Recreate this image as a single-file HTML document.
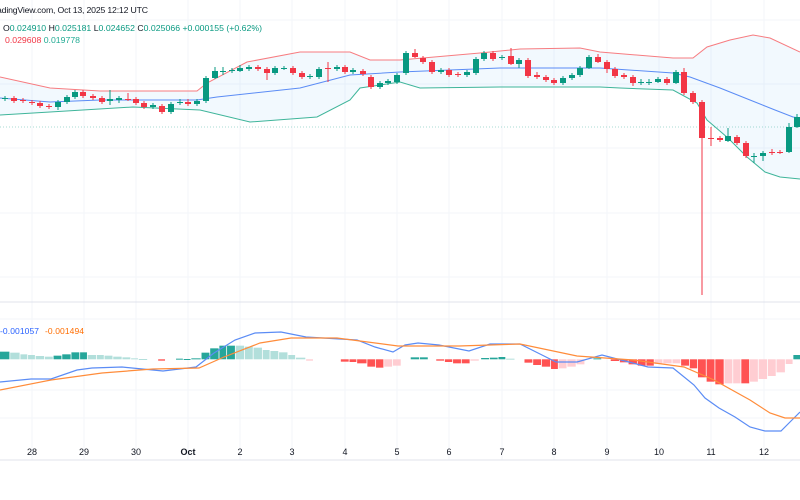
<!DOCTYPE html>
<html><head><meta charset="utf-8"><style>
html,body{margin:0;padding:0;background:#fff;width:800px;height:500px;overflow:hidden}
svg{display:block}
text{font-family:"Liberation Sans",sans-serif}
</style></head><body>
<svg id="s" width="800" height="500" viewBox="0 0 800 500" xmlns="http://www.w3.org/2000/svg">
<g id="grid" stroke="#f3f5fa" stroke-width="1"></g>
<line x1="0" y1="302" x2="800" y2="302" stroke="#e0e3eb"/>
<line x1="0" y1="460" x2="800" y2="460" stroke="#e0e3eb"/>
<path id="bandfill" fill="#2196f3" fill-opacity="0.06"/>
<path id="upper" fill="none" stroke="#f77c80" stroke-width="1"/>
<path id="mid" fill="none" stroke="#5b8cf5" stroke-width="1"/>
<path id="lower" fill="none" stroke="#3fb59a" stroke-width="1"/>
<line x1="0" y1="127" x2="800" y2="127" stroke="#089981" stroke-opacity="0.35" stroke-dasharray="1,2"/>
<g id="candles"></g>
<g id="hist"></g>
<path id="macd" fill="none" stroke="#5b8cf5" stroke-width="1.2"/>
<path id="sig" fill="none" stroke="#ff8c3a" stroke-width="1.2"/>
<text x="-3" y="13" font-size="8.7" fill="#131722" textLength="151">adingView.com, Oct 13, 2025 12:12 UTC</text>
<text x="3" y="31" font-size="8.7" fill="#131722" textLength="259">O<tspan fill="#089981">0.024910</tspan> H<tspan fill="#089981">0.025181</tspan> L<tspan fill="#089981">0.024652</tspan> C<tspan fill="#089981">0.025066</tspan> <tspan fill="#089981">+0.000155 (+0.62%)</tspan></text>
<text x="5" y="43" font-size="8.7" fill="#f23645" textLength="75">0.029608 <tspan fill="#22ab94">0.019778</tspan></text>
<text x="0" y="334" font-size="8.5" fill="#2962ff" textLength="39">-0.001057</text>
<text x="45" y="334" font-size="8.5" fill="#ff6d00" textLength="39">-0.001494</text>
<g font-size="9" fill="#131722" text-anchor="middle" id="dates"></g>
</svg>
<script>
var NS="http://www.w3.org/2000/svg";
function el(p,t,a){var e=document.createElementNS(NS,t);for(var k in a)e.setAttribute(k,a[k]);document.getElementById(p).appendChild(e);return e;}
var days=[["28",32],["29",84],["30",136],["Oct",188],["2",240],["3",292],["4",345],["5",397],["6",449],["7",502],["8",554],["9",607],["10",659],["11",711],["12",764]];
days.forEach(function(d){el("grid","line",{x1:d[1],y1:0,x2:d[1],y2:460});var t=el("dates","text",{x:d[1],y:455});t.textContent=d[0];if(d[0]=="Oct")t.setAttribute("font-weight","bold");});
[20,84,148,213,277,319,390,418].forEach(function(y){el("grid","line",{x1:0,y1:y,x2:800,y2:y});});
function path(pts){return "M"+pts.map(function(p){return p[0]+","+p[1]}).join("L");}
var up=[[0,77],[50,88],[100,91],[197,91],[207,83],[247,62],[300,52],[350,52],[370,60],[400,60],[480,53],[520,49],[580,48],[600,52],[673,58],[693,58],[707,47],[730,40],[753,35],[770,38],[800,52]];
var md=[[0,98],[50,102],[100,100],[197,100],[217,97],[300,88],[350,75],[400,72],[500,68],[600,68],[673,73],[690,77],[720,88],[750,100],[775,110],[793,117],[800,118]];
var lo=[[0,115],[50,112],[133,107],[200,110],[250,122],[317,117],[350,100],[360,88],[400,82],[420,88],[500,87],[600,87],[620,88],[673,90],[697,103],[707,120],[728,138],[747,157],[765,172],[780,177],[800,179]];
document.getElementById("upper").setAttribute("d",path(up));
document.getElementById("mid").setAttribute("d",path(md));
document.getElementById("lower").setAttribute("d",path(lo));
document.getElementById("bandfill").setAttribute("d",path(up)+"L"+lo.slice().reverse().map(function(p){return p[0]+","+p[1]}).join("L")+"Z");
var G="#089981",R="#f23645";
var c=[[5,98,99,G],[14,98,101,R],[23,100,101,R],[32,102,103,R],[40,103,106,R],[49,106,107,R],[58,102,107,G,100,110],[67,97,102,G],[75,92,97,G],[83,92,96,R],[93,96,98,R],[102,98,102,R,96,104],[110,99,101,G,90,105],[119,98,100,G,96,103],[128,99,100,R,93,101],[136,99,103,R],[144,103,107,R],[153,105,107,G],[162,106,112,R],[171,104,112,G],[180,102,103,G,99,105],[188,102,104,R,99,106],[197,101,104,G],[206,78,101,G],[215,71,78,G,67,79],[223,71,71,G,67,75],[232,70,71,G],[240,68,71,G,65,72],[249,67,69,G],[258,67,69,R],[267,69,73,R,67,80],[275,68,73,G],[284,68,68,G],[293,68,73,R],[302,73,77,R],[310,76,77,G],[319,69,77,G],[328,68,69,R,62,82],[337,67,69,G],[345,67,72,R],[353,70,72,G],[363,71,74,R],[371,77,87,R],[380,83,87,G],[388,81,83,G],[397,75,82,G],
[406,53,73,G],[415,53,57,R,49,58],[423,58,62,R],[432,62,72,R],[441,70,72,G],[449,70,75,R],[458,74,74,R,72,77],[467,72,75,G],[476,59,73,G],[484,53,59,G,51,61],[493,53,59,R],[502,57,58,G],[511,56,64,R,48,65],[519,60,64,G,58,68],[528,60,76,R],[537,75,77,R,72,79],[546,77,80,R],[554,80,83,R],[563,78,83,G],[572,75,78,G],[580,68,75,G],[589,57,68,G,55,69],[598,57,62,R,54,63],[607,62,69,R,60,73],[615,69,76,R],[624,75,77,R,73,79],[633,77,83,R,75,86],[641,82,82,G,79,85],[649,82,82,G,79,85],[658,79,82,G,77,83],[667,79,83,R],[676,72,83,G,70,84],[684,72,93,R,68,95],[693,93,102,R,91,104],[702,102,138,R,100,295],[711,138,138,R,127,146],[720,138,140,R],[728,136,141,G,128,142],[737,137,143,R,135,145],[746,143,156,R],[754,156,156,G,153,163],[763,153,156,G,151,161],[772,152,152,R,149,155],[780,152,152,R,150,154],[789,127,152,G,123,153],[797,117,127,G,114,128]];
c.forEach(function(k){var x=k[0],t=k[1],b=k[2],col=k[3],wt=k[4]||t-2,wb=k[5]||b+2;
el("candles","line",{x1:x,y1:wt,x2:x,y2:wb,stroke:col,"stroke-width":1});
el("candles","rect",{x:x-3,y:t,width:6,height:Math.max(1,b-t),fill:col});});
var D="#26a69a",L="#b2dfdb",RR="#ff5252",P="#ffcdd2";
var h=[[0,20,155,D],[20,40,158,L],[40,55,163,L],[55,70,165,L],[70,88,168,L],[88,105,170,L],[105,122,167,D],[122,140,163,D],[140,157,157,D],[157,172,157,D],[172,190,165,L],[190,205,165,L],[205,222,167,L],[222,240,170,L],[240,257,172,L],[257,272,175,L],[272,290,177,L],[310,325,182,RR],[345,360,176,D],[360,375,177,D],[375,395,175,D],[395,412,158,D],[412,430,145,D],[430,445,137,D],[445,462,137,D],[462,480,137,L],[480,497,140,L],[497,515,143,L],[515,530,150,L],[530,547,153,L],[547,565,157,L],[565,580,165,L],[580,600,173,L],[600,615,182,P],[668,685,185,RR],[685,700,186,RR],[700,720,190,RR],[720,737,200,RR],[737,753,203,RR],[753,770,200,P],[770,787,197,P],[805,823,172,D],[823,840,172,D],[855,872,182,RR],[872,888,186,RR],[888,905,190,RR],[905,922,190,RR],[922,940,182,P],[943,960,174,D],[960,977,173,D],[977,992,171,D],[992,1010,176,L],[1028,1045,188,RR],[1045,1062,195,RR],[1062,1080,200,RR],[1080,1095,207,RR],[1095,1112,205,P],[1112,1130,200,P],[1130,1147,193,P],[1163,1180,175,D],[1197,1215,183,RR],[1215,1232,187,RR],[1232,1250,193,RR],[1250,1267,197,RR],[1267,1283,197,RR],[1283,1300,192,P],[1300,1318,190,P],[1318,1335,190,P],[1335,1352,197,RR],[1352,1368,205,RR],[1368,1385,232,RR],[1385,1402,245,RR],[1402,1420,253,RR],[1420,1437,250,P],[1437,1453,250,P],[1453,1470,250,RR],[1470,1487,245,P],[1487,1505,237,P],[1505,1522,228,P],[1522,1540,217,P],[1540,1555,192,P],[1555,1570,165,D]];
var z=359.3;
h.forEach(function(b){var x0=b[0]/1.96,x1=b[1]/1.96,y=300+b[2]/3;var top=Math.min(y,z),ht=Math.max(1,Math.abs(y-z));
el("hist","rect",{x:x0,y:top,width:Math.max(1,x1-x0-0.8),height:ht,fill:b[3]});});
var mc=[[0,382],[31,379],[51,379],[77,370],[92,368],[122,367],[163,371],[196,367],[214,353],[235,340],[255,333],[281,332],[306,337],[357,340],[375,347],[393,352],[405,345],[418,343],[439,345],[469,351],[490,344],[520,344],[540,354],[556,362],[577,362],[602,355],[625,361],[648,367],[673,368],[694,385],[705,398],[719,408],[735,417],[750,427],[765,431],[781,431],[790,422],[800,412]];
var sg=[[0,390],[51,380],[102,373],[153,369],[199,368],[224,357],[260,343],[291,338],[337,338],[398,346],[459,346],[520,344],[577,356],[633,360],[684,367],[714,380],[750,400],[770,413],[785,418],[800,418]];
document.getElementById("macd").setAttribute("d",path(mc));
document.getElementById("sig").setAttribute("d",path(sg));
</script>
</body></html>
